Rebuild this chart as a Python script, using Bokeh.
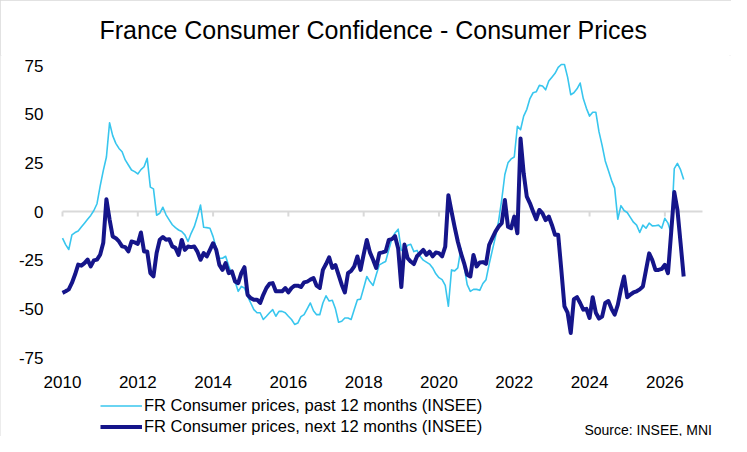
import pandas as pd
from bokeh.plotting import figure
from bokeh.models import Range1d, FixedTicker, Legend, LegendItem, Label
from bokeh.embed import file_html
from bokeh.resources import INLINE

title_text = "France Consumer Confidence - Consumer Prices"
source_text = "Source: INSEE, MNI"
series_names = ["FR Consumer prices, past 12 months (INSEE)",
                "FR Consumer prices, next 12 months (INSEE)"]
start_month = "2010-01"

# monthly balances, Jan 2010 onwards
past_12m = [
    -13.7, -17, -19.5, -12, -10.8, -10, -8, -6, -4, -2, 0.5, 4,            # 2010
    13, 21, 28, 45.6, 39, 35, 32.4, 30.7, 26.5, 23.9, 21.3, 20.5,         # 2011
    19.3, 21.5, 23, 27.3, 12.5, 11.6, -1.9, -0.9, 2.2, -1.7, -4.3, -6.8,  # 2012
    -8.3, -9.5, -10.3, -12, -15.4, -11.2, -7.8, -2.6, 3.3, -8.1, -8.3, -8.6,  # 2013
    -12.9, -18.9, -24, -24, -23, -28, -32.5, -35.9, -41, -38.5, -39.3, -43.6,  # 2014
    -47, -50.4, -52, -52, -55.5, -53.8, -52, -50.4, -53.8, -51.3, -51.3, -52,  # 2015
    -53.8, -55.5, -58, -57.3, -54, -53, -50, -47, -51, -53, -53, -47,     # 2016
    -43.3, -46, -45.6, -50, -56.9, -56.4, -54.7, -54.7, -55.5, -50.4, -45.3, -45,  # 2017
    -39.3, -33.4, -36, -38, -32.5, -27.4, -26.5, -25.7, -19.7, -14, -11, -9.1,  # 2018
    -20, -19.7, -17.4, -16.8, -20.6, -20, -23, -25, -26, -27, -29, -32,   # 2019
    -34, -35, -38, -48.7, -30, -30.5, -29, -19, -28, -37.6, -41, -40,     # 2020
    -40, -40.5, -37, -35, -27, -20, -13, -5, 6, 19, 25, 27,               # 2021
    28, 43.8, 42, 49, 52.5, 58, 61, 61.5, 64.8, 64.5, 62.5, 67,           # 2022
    69, 71, 74, 75.5, 75.5, 69, 60, 61, 63, 66, 58, 53,                   # 2023
    49, 51, 51, 41, 34, 26, 21, 16, 12, -4, 3, 0.5,                       # 2024
    -0.5, -3, -5.5, -7, -10.8, -7, -8.6, -6, -7.4, -7.3, -7, -8.6,        # 2025
    -3.5, -6, -11, 22, 24.7, 21.5, 16.5,                                  # 2026
]
next_12m = [
    -41.8, -41, -40, -36.7, -32.4, -27.3, -27.8, -26.5, -24.7, -28.2, -25.1, -24.7,  # 2010
    -22.2, -16, 6.3, -4, -12.8, -13.7, -15.4, -17.9, -18.3, -20.5, -15.4, -15.9,     # 2011
    -16.6, -10.8, -20.5, -20.5, -31.6, -33.3, -21.3, -14.5, -13.1, -14.5, -14.2, -17.9,  # 2012
    -18.7, -22.3, -14.6, -19.7, -18, -18.3, -18, -20.6, -24.8, -21.4, -23.1, -19.7,  # 2013
    -16.3, -19.7, -27.4, -30, -26.5, -31.7, -30.8, -35.9, -36.8, -31.7, -28.6, -42.8,  # 2014
    -44.5, -45.3, -45.3, -47, -42.8, -39.3, -37.1, -36.8, -41, -41, -41, -39.3,      # 2015
    -41.5, -39.3, -38.1, -38.1, -38.8, -36.4, -36, -35, -34.2, -38.1, -39.3, -30,    # 2016
    -27, -23.5, -29, -27.5, -32.5, -37.6, -41.6, -31.7, -30.5, -28.2, -23.1, -30,    # 2017
    -22, -14.6, -21, -24.8, -29, -21.4, -21, -20.5, -14.6, -14.2, -12.7, -19,        # 2018
    -38.8, -17, -24, -25.7, -27, -23, -21.4, -19.7, -22.3, -20.6, -23, -21.1,        # 2019
    -21.4, -23, -18, 8.4, 0, -8, -15.4, -21.4, -26.5, -32.5, -33.4, -22.3,           # 2020
    -28.2, -26.2, -26, -26.9, -17.1, -13.7, -10.3, -7.8, -6, 5.9, -7.8, -8.6,        # 2021
    -2.6, -11.2, 37.5, 19.6, 7.6, 4.2, 0, -4, 0.8, -1, -4.4, -2.6,                   # 2022
    -6.9, -12, -12, -30, -48.7, -52, -62.4, -45, -44, -47, -50.4, -50,               # 2023
    -54.7, -44, -52, -55, -54, -47, -46, -50, -53, -48, -40, -33.4,                  # 2024
    -44, -42.7, -41.6, -41, -40, -38.5, -30, -21.5, -25, -30, -30, -29.5,            # 2025
    -27.4, -31.7, -11, 10, 1, -16, -33.4,                                            # 2026
]
x_ticks = [2010, 2012, 2014, 2016, 2018, 2020, 2022, 2024, 2026]
y_ticks = [-75, -50, -25, 0, 25, 50, 75]
x_limits = (2010, 2027)
y_limits = (-75, 75)

dates = pd.date_range(start_month, periods=len(past_12m), freq="MS")
x = list(dates.year + (dates.month - 1) / 12.0)

FONT = "Liberation Sans"
LIGHT = "#38c6ee"
DARK = "#15158a"
GREY = "#d9d9d9"
TICK_LEN = 2.6  # zero-line tick length, in value units (~5px)

# layout (pixels): the drawing frame spans the whole figure below the title
# strip; the value scale occupies the box PLOT_L..PLOT_R x PLOT_T..PLOT_B
# inside it, and the margins around that box hold tick labels, legend, source.
W, H = 731, 436
TITLE_H = 55
PLOT_L, PLOT_R = 62, 702
PLOT_T, PLOT_B = 65, 357
x_per_px = (x_limits[1] - x_limits[0]) / (PLOT_R - PLOT_L)
y_per_px = (y_limits[1] - y_limits[0]) / (PLOT_B - PLOT_T)
x_view = (x_limits[0] - PLOT_L * x_per_px, x_limits[1] + (W - PLOT_R) * x_per_px)
y_view = (y_limits[0] - (H - PLOT_B) * y_per_px,
          y_limits[1] + (PLOT_T - TITLE_H) * y_per_px)

p = figure(width=W, height=H, output_backend="svg", toolbar_location=None,
           x_range=Range1d(*x_view), y_range=Range1d(*y_view),
           min_border_left=0, min_border_right=0, min_border_top=TITLE_H,
           min_border_bottom=0, background_fill_color="white",
           border_fill_color="white")
p.styles = {"outline": "2px solid #d9d9d9", "outline-offset": "-2px"}
p.outline_line_color = None
p.xgrid.visible = False
p.ygrid.visible = False

# title
p.title.text = title_text
p.title.text_font = FONT
p.title.text_font_size = "25px"
p.title.text_font_style = "normal"
p.title.text_color = "black"
p.title.align = "left"
p.title.offset = 99
p.title.vertical_align = "top"
p.title.standoff = 20

# x axis: labels only, pinned at the bottom of the value scale
xa = p.xaxis[0]
xa.fixed_location = y_limits[0]
xa.ticker = FixedTicker(ticks=x_ticks)
xa.axis_line_color = None
xa.major_tick_line_color = None
xa.minor_tick_line_color = None
xa.major_tick_out = 0
xa.major_tick_in = 0
xa.major_label_standoff = 18
xa.major_label_text_font = FONT
xa.major_label_text_font_size = "17px"
xa.major_label_text_color = "black"

# y axis: labels only, pinned at the left of the value scale
ya = p.yaxis[0]
ya.fixed_location = x_limits[0]
ya.ticker = FixedTicker(ticks=y_ticks)
ya.major_label_overrides = {t: str(t) for t in y_ticks}
ya.axis_line_color = None
ya.major_tick_line_color = None
ya.minor_tick_line_color = None
ya.major_tick_out = 0
ya.major_tick_in = 0
ya.major_label_standoff = 19
ya.major_label_text_font = FONT
ya.major_label_text_font_size = "17px"
ya.major_label_text_color = "black"

# zero line across the value scale, with downward ticks
p.segment(x0=[x_limits[0]], y0=[0], x1=[x_limits[1]], y1=[0],
          line_color=GREY, line_width=2)
p.segment(x0=x_ticks, y0=[0] * len(x_ticks), x1=x_ticks,
          y1=[-TICK_LEN] * len(x_ticks), line_color=GREY, line_width=2)

r1 = p.line(x, past_12m, line_color=LIGHT, line_width=1.6, line_join="round")
r2 = p.line(x, next_12m, line_color=DARK, line_width=4, line_join="round")

legend = Legend(items=[LegendItem(label=series_names[0], renderers=[r1]),
                       LegendItem(label=series_names[1], renderers=[r2])],
                location=(100, 0), orientation="vertical",
                glyph_width=42, glyph_height=19, label_height=19,
                label_standoff=2, spacing=2, padding=0, margin=0,
                border_line_color=None, background_fill_alpha=0,
                label_text_font=FONT, label_text_font_size="16.5px",
                label_text_color="black")
p.add_layout(legend, "center")

src = Label(x=711.5, y=7, x_units="screen", y_units="screen",
            text=source_text, text_font=FONT, text_font_size="14px",
            text_color="black", text_baseline="alphabetic", text_align="right")
p.add_layout(src)

open("out.html", "w").write(file_html(p, INLINE))
